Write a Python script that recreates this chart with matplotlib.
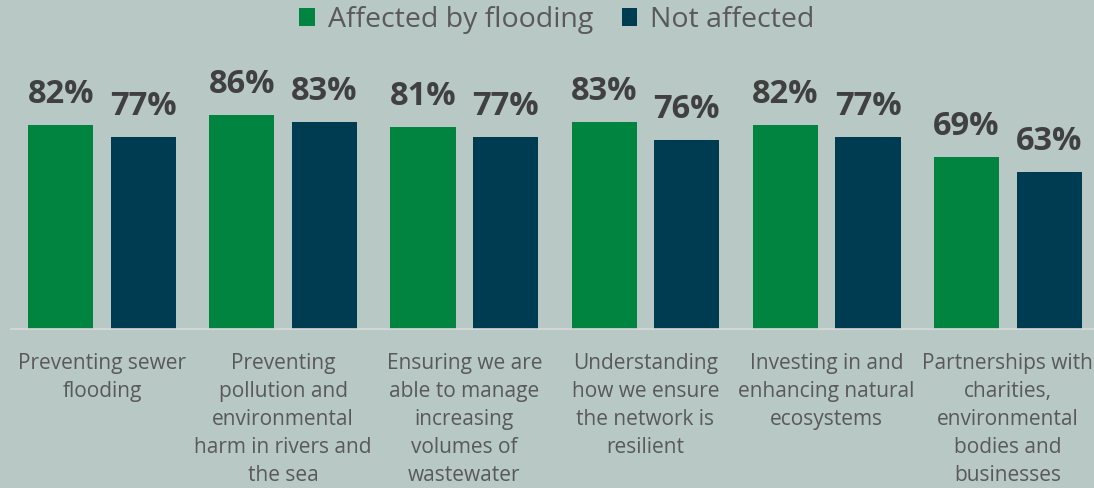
import matplotlib
matplotlib.use("Agg")
import matplotlib.pyplot as plt
import numpy as np
from matplotlib.patches import Patch

categories = [
    "Preventing sewer\nflooding",
    "Preventing\npollution and\nenvironmental\nharm in rivers and\nthe sea",
    "Ensuring we are\nable to manage\nincreasing\nvolumes of\nwastewater",
    "Understanding\nhow we ensure\nthe network is\nresilient",
    "Investing in and\nenhancing natural\necosystems",
    "Partnerships with\ncharities,\nenvironmental\nbodies and\nbusinesses",
]
affected = [82, 86, 81, 83, 82, 69]
not_affected = [77, 83, 77, 76, 77, 63]
series_names = ["Affected by flooding", "Not affected"]

BG = "#b7c8c5"
GREEN = "#00843f"
NAVY = "#003c51"
LABEL_DARK = "#404040"
TEXT_GREY = "#595959"

plt.rcParams["font.family"] = ["Open Sans", "DejaVu Sans"]

W, H = 1094, 488
fig = plt.figure(figsize=(W / 100, H / 100), dpi=100, facecolor=BG)
ax = fig.add_axes([11.4 / W, 1 - 329 / H, 1087 / W, 249 / H], facecolor=BG)

x = np.arange(len(categories))
bw = 0.36
off = 0.228
b1 = ax.bar(x - off, affected, bw, color=GREEN)
b2 = ax.bar(x + off, not_affected, bw, color=NAVY)

for bars, vals in ((b1, affected), (b2, not_affected)):
    for rect, v in zip(bars, vals):
        ax.annotate(f"{v}%", (rect.get_x() + rect.get_width() / 2, v),
                    xytext=(0, 10), textcoords="offset points",
                    ha="center", va="bottom", fontsize=23.5, fontweight="bold",
                    color=LABEL_DARK)

ax.set_xlim(-0.5, len(categories) - 0.5)
ax.set_ylim(0, 100)
ax.set_yticks([])
ax.set_xticks(x)
ax.set_xticklabels(categories, fontsize=15, color=TEXT_GREY, linespacing=1.45,
                   va="top")
ax.tick_params(axis="x", length=0, pad=17)
for s in ("top", "right", "left"):
    ax.spines[s].set_visible(False)
ax.spines["bottom"].set_color("#d9d9d9")
ax.spines["bottom"].set_linewidth(1.2)

handles = [Patch(facecolor=GREEN, edgecolor="none"),
           Patch(facecolor=NAVY, edgecolor="none")]
fig.legend(handles, series_names, loc="center", bbox_to_anchor=(557 / W, 1 - 20 / H),
           ncol=2, frameon=False, fontsize=20.5, labelcolor=TEXT_GREY,
           handlelength=0.55, handleheight=0.55, handletextpad=0.45,
           columnspacing=1.0, borderpad=0)

fig.savefig("out.png", dpi=100, facecolor=BG)
